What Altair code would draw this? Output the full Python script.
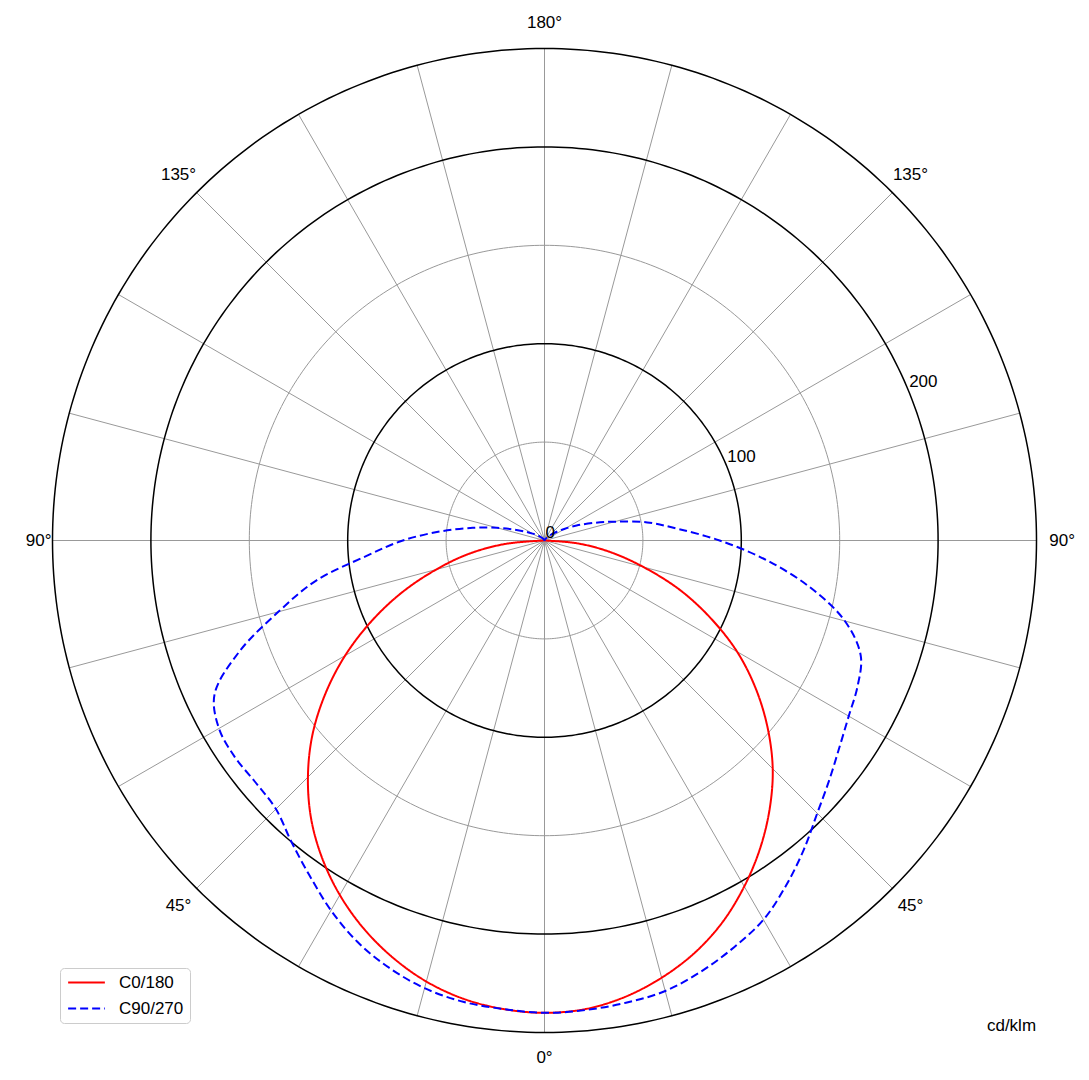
import math
import pandas as pd
import altair as alt

# ---------------- data (cd/klm) ----------------
# gamma angles (deg from nadir) for the C0/180 plane
red_angles = list(range(0, 95, 5))
red_c0 = [240, 239, 235.5, 230, 223, 214, 203, 191, 178, 164, 148, 131, 113, 93, 73, 52, 34, 17, 0]          # right half
red_c180 = [240, 239, 236.5, 232, 225.5, 217.5, 208, 197, 184.5, 170, 154, 136, 117, 97, 77, 57, 39, 20, 0]  # left half

# gamma angles for the C90/270 plane
blue_angles = list(range(0, 135, 5)) + [140, 150, 180]
blue_c90 = [240, 239.5, 238.5, 237, 233, 228, 222.5, 214, 205, 196, 189, 183, 178.5, 175.5, 171, 158,
            137, 113, 89, 68, 53, 37, 26, 18, 12, 8, 5, 2, 1, 0]                                             # right half
blue_c270 = [240, 239, 238, 235.5, 231, 225, 217, 208, 200, 193, 191.5, 192, 191, 185, 165, 140,
             118, 91, 72, 53, 37, 25, 16, 10.5, 7, 5, 3.5, 1.5, 0.5, 0]                                      # left half

series_names = ["C0/180", "C90/270"]
series_colors = ["#ff0000", "#0000ff"]

ring_values = [50, 100, 150, 200, 250]
ring_is_major = [False, True, False, True, True]
spoke_angles = list(range(0, 360, 15))
r_tick_values = [0, 100, 200]
r_tick_labels = ["0", "100", "200"]
angle_tick_positions = [0, 45, 90, 135, 180, 225, 270, 315]
angle_tick_labels = ["0°", "45°", "90°", "135°", "180°", "135°", "90°", "45°"]
angle_label_radius = [263, 263, 263, 263, 263, 263, 257, 263]
unit_label = "cd/klm"
R_MAX = 250

FONT = "Liberation Sans"


def pol(r, phi_deg):
    p = math.radians(phi_deg)
    return r * math.sin(p), -r * math.cos(p)


# ---------------- build tables ----------------
rows = []
k = 0
for g, v in reversed(list(zip(red_angles, red_c180))):
    x, y = pol(v, -g); rows.append(dict(series=series_names[0], k=k, x=x, y=y)); k += 1
for g, v in list(zip(red_angles, red_c0))[1:]:
    x, y = pol(v, g); rows.append(dict(series=series_names[0], k=k, x=x, y=y)); k += 1
for g, v in reversed(list(zip(blue_angles, blue_c270))):
    x, y = pol(v, -g); rows.append(dict(series=series_names[1], k=k, x=x, y=y)); k += 1
for g, v in list(zip(blue_angles, blue_c90))[1:]:
    x, y = pol(v, g); rows.append(dict(series=series_names[1], k=k, x=x, y=y)); k += 1
curves = pd.DataFrame(rows)

ring_rows = []
for rv, major in zip(ring_values, ring_is_major):
    for i in range(0, 361):
        x, y = pol(rv, i)
        ring_rows.append(dict(ring=rv, major=major, i=i, x=x, y=y))
rings = pd.DataFrame(ring_rows)

spoke_rows = []
for a in spoke_angles:
    x2, y2 = pol(R_MAX, a)
    spoke_rows.append(dict(x=0.0, y=0.0, x2=x2, y2=y2))
spokes = pd.DataFrame(spoke_rows)

ang_rows = []
for a, t, rr in zip(angle_tick_positions, angle_tick_labels, angle_label_radius):
    x, y = pol(rr, a)
    ang_rows.append(dict(x=x, y=y, t=t))
ang_df = pd.DataFrame(ang_rows)

rl_rows = []
for v, t in zip(r_tick_values, r_tick_labels):
    x, y = pol(v, 112.5)
    rl_rows.append(dict(x=x, y=y, t=t))
rl_df = pd.DataFrame(rl_rows)

unit_df = pd.DataFrame([dict(x=237.3, y=-246.7, t=unit_label)])

# ---------------- scales ----------------
W, H = 1073, 1065
S = 492 / 250.0
xs = alt.Scale(domain=[-(W / 2) / S, (W / 2) / S], nice=False, zero=False)
ys = alt.Scale(domain=[-(H / 2) / S, (H / 2) / S], nice=False, zero=False)


def X(f="x"):
    return alt.X(f"{f}:Q", scale=xs, axis=None)


def Y(f="y"):
    return alt.Y(f"{f}:Q", scale=ys, axis=None)


gray_rings = alt.Chart(rings[~rings.major]).mark_line(color="#999999", strokeWidth=1).encode(
    x=X(), y=Y(), detail="ring:N", order="i:Q")
black_rings = alt.Chart(rings[rings.major]).mark_line(color="#000000", strokeWidth=1.5).encode(
    x=X(), y=Y(), detail="ring:N", order="i:Q")
spoke_layer = alt.Chart(spokes).mark_rule(color="#999999", strokeWidth=1).encode(
    x=X(), y=Y(), x2="x2:Q", y2="y2:Q")

leg = alt.Legend(
    title=None, orient="none", legendX=52, legendY=960,
    labelFont=FONT, labelFontSize=17, labelColor="#000000",
    symbolType="M-3,0H3", symbolSize=150, symbolStrokeWidth=2, symbolOffset=12,
    labelOffset=24, rowPadding=8, padding=6,
    strokeColor="#cccccc", fillColor="#ffffff", cornerRadius=4,
)
curve_layer = alt.Chart(curves).mark_line(strokeWidth=2, interpolate="catmull-rom").encode(
    x=X(), y=Y(),
    color=alt.Color("series:N", scale=alt.Scale(domain=series_names, range=series_colors), legend=leg),
    strokeDash=alt.StrokeDash("series:N", scale=alt.Scale(domain=series_names, range=[[1, 0], [8, 4]]), legend=leg),
    order="k:Q",
)

ang_layer = alt.Chart(ang_df).mark_text(font=FONT, fontSize=17, color="#000000", align="center",
                                        baseline="middle").encode(x=X(), y=Y(), text="t:N")
rl_layer = alt.Chart(rl_df).mark_text(font=FONT, fontSize=17, color="#000000", align="left",
                                      baseline="middle", dx=1, dy=-8).encode(x=X(), y=Y(), text="t:N")
unit_layer = alt.Chart(unit_df).mark_text(font=FONT, fontSize=17, color="#000000", align="center",
                                          baseline="middle").encode(x=X(), y=Y(), text="t:N")

chart = alt.layer(
    gray_rings, spoke_layer, black_rings, curve_layer, ang_layer, rl_layer, unit_layer
).properties(
    width=W, height=H, padding=0, autosize=alt.AutoSizeParams(type="none")
).configure_view(stroke=None)

chart.save("out.html", embed_options={"renderer": "svg", "actions": False})
